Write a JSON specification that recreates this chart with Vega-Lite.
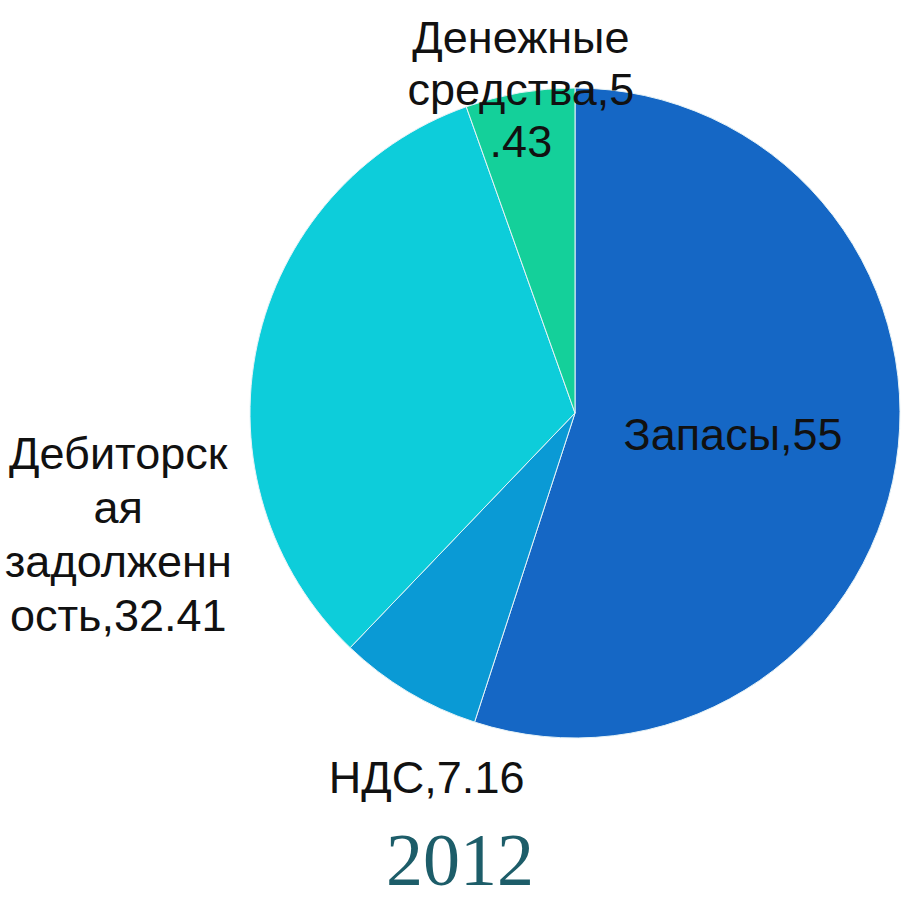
{
  "$schema": "https://vega.github.io/schema/vega-lite/v6.json",
  "width": 650,
  "height": 650,
  "autosize": {"type": "none"},
  "padding": {"left": 250, "top": 88, "right": 3, "bottom": 163},
  "background": "white",
  "view": {"stroke": null},
  "title": {
    "text": "2012",
    "orient": "bottom",
    "anchor": "middle",
    "frame": "group",
    "dx": -115,
    "offset": -85,
    "baseline": "alphabetic",
    "font": "Liberation Serif",
    "fontSize": 74,
    "fontWeight": "normal",
    "color": "#1d5d69"
  },
  "data": {
    "values": [
      {"i": 1, "name": "Запасы", "value": 55, "label": "Запасы,55"},
      {"i": 2, "name": "НДС", "value": 7.16, "label": "НДС,7.16"},
      {"i": 3, "name": "Дебиторская задолженность", "value": 32.41, "label": "Дебиторск\nая\nзадолженн\nость,32.41"},
      {"i": 4, "name": "Денежные средства", "value": 5.43, "label": "Денежные\nсредства,5\n.43"}
    ]
  },
  "encoding": {
    "theta": {"field": "value", "type": "quantitative", "stack": true},
    "order": {"field": "i", "type": "quantitative"}
  },
  "layer": [
    {
      "mark": {"type": "arc", "stroke": "#e6f3f7", "strokeWidth": 1},
      "encoding": {
        "color": {
          "field": "name",
          "type": "nominal",
          "legend": null,
          "sort": ["Запасы", "НДС", "Дебиторская задолженность", "Денежные средства"],
          "scale": {
            "domain": ["Запасы", "НДС", "Дебиторская задолженность", "Денежные средства"],
            "range": ["#1567c5", "#0a9ad5", "#0dcdda", "#14d09a"]
          }
        }
      }
    },
    {
      "mark": {"type": "text", "radius": 160, "dy": 12, "align": "center", "baseline": "alphabetic", "font": "Liberation Sans", "fontSize": 45, "fill": "#111111"},
      "encoding": {"text": {"condition": {"test": "datum.i == 1", "field": "label"}, "value": ""}}
    },
    {
      "mark": {"type": "text", "radius": 400, "dx": 57, "dy": 37, "align": "center", "baseline": "alphabetic", "font": "Liberation Sans", "fontSize": 45, "fill": "#111111"},
      "encoding": {"text": {"condition": {"test": "datum.i == 2", "field": "label"}, "value": ""}}
    },
    {
      "mark": {"type": "text", "radius": 460, "dx": -7, "dy": 153, "align": "center", "baseline": "alphabetic", "lineBreak": "\n", "lineHeight": 54, "font": "Liberation Sans", "fontSize": 45, "fill": "#111111"},
      "encoding": {"text": {"condition": {"test": "datum.i == 3", "field": "label"}, "value": ""}}
    },
    {
      "mark": {"type": "text", "radius": 360, "dx": 7, "dy": -5, "align": "center", "baseline": "alphabetic", "lineBreak": "\n", "lineHeight": 52, "font": "Liberation Sans", "fontSize": 45, "fill": "#111111"},
      "encoding": {"text": {"condition": {"test": "datum.i == 4", "field": "label"}, "value": ""}}
    }
  ]
}
